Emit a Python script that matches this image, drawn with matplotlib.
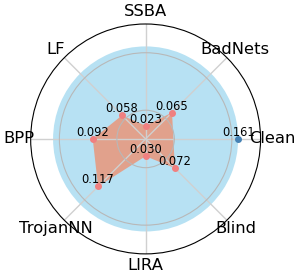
import numpy as np
import matplotlib
matplotlib.use("Agg")
import matplotlib.pyplot as plt

categories = ['Clean', 'BadNets', 'SSBA', 'LF', 'BPP', 'TrojanNN', 'LIRA', 'Blind']
values = [0.161, 0.065, 0.023, 0.058, 0.092, 0.117, 0.030, 0.072]
clean_value = values[0]
attack_values = values[1:]
r_ticks = [0.05, 0.15]
r_max = 0.2
label_r = 0.221

angles = np.linspace(0, 2 * np.pi, len(categories), endpoint=False)

fig = plt.figure(figsize=(2.99, 2.79), dpi=100)
ax = fig.add_axes([0.102, 0.090, 0.77, 0.824], projection='polar')

# Clean reference disk
ax.bar(0, clean_value, width=2 * np.pi, bottom=0, color='skyblue', alpha=0.6,
       edgecolor='none', align='center')
ax.plot([angles[0]], [clean_value], 'o', color='steelblue', markersize=4, zorder=3)

# Attack polygon
att_angles = angles[1:]
ax.fill(att_angles, attack_values, color='darksalmon', alpha=0.85, edgecolor='none')
ax.plot(att_angles, attack_values, 'o', color='lightcoral', markersize=4, linestyle='none', zorder=3)

for a, v in zip(angles, values):
    ax.text(a, v, f'{v:.3f}', ha='center', va='bottom', fontsize=8.3, zorder=4)

ax.set_xticks(angles)
ax.set_xticklabels([])
for a, c in zip(angles, categories):
    ax.text(a, label_r, c, ha='center', va='center', fontsize=11.8, clip_on=False)
ax.set_ylim(0, r_max)
ax.set_yticks(r_ticks)
ax.set_yticklabels([])
ax.xaxis.grid(True, color='#d0d0d0', linewidth=1.0)
ax.yaxis.grid(True, color='#b8b8b8', linewidth=0.8)
ax.spines['polar'].set_linewidth(0.8)

fig.savefig('out.png', dpi=100)
